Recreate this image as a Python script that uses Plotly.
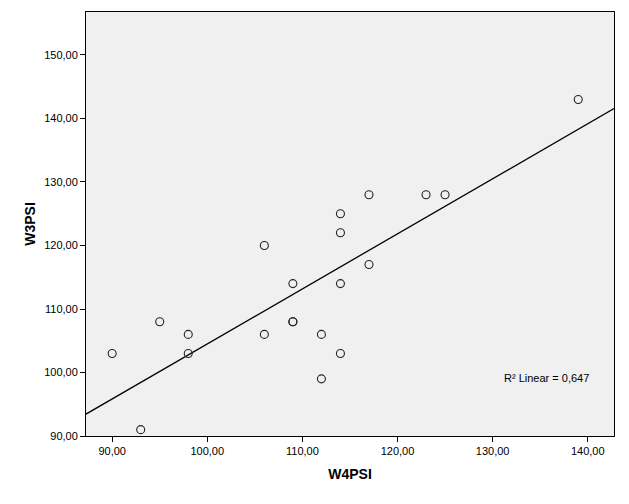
import numpy as np
import plotly.graph_objects as go

w4psi = [90, 93, 95, 98, 98, 106, 106, 109, 109, 109, 112, 112, 114, 114, 114, 114, 117, 117, 123, 125, 139]
w3psi = [103, 91, 108, 106, 103, 120, 106, 114, 108, 108, 106, 99, 125, 122, 114, 103, 128, 117, 128, 128, 143]
x_ticks = [90, 100, 110, 120, 130, 140]
y_ticks = [90, 100, 110, 120, 130, 140, 150]
r2_label = "R² Linear = 0,647"

x_range = [87.25, 142.76]
y_range = [90, 156.77]

slope, intercept = np.polyfit(w4psi, w3psi, 1)
fit_x = np.array(x_range)
fit_y = slope * fit_x + intercept

font = "Liberation Sans, Arial, sans-serif"

fig = go.Figure()
fig.add_trace(go.Scatter(x=fit_x, y=fit_y, mode="lines",
                         line=dict(color="black", width=1.3), hoverinfo="skip",
                         showlegend=False))
fig.add_trace(go.Scatter(x=w4psi, y=w3psi, mode="markers",
                         marker=dict(symbol="circle-open", size=8,
                                     color="#222222", line=dict(width=1.1, color="#222222")),
                         showlegend=False))

fig.add_annotation(x=131.0, y=99.1, text=r2_label, showarrow=False, xanchor="left",
                   yanchor="middle", font=dict(family=font, size=11, color="black"))

fig.update_layout(
    width=629, height=504,
    margin=dict(l=86, r=15, t=12, b=68),
    paper_bgcolor="white", plot_bgcolor="#F0F0F0",
    separators=",.",
    font=dict(family=font, size=11, color="black"),
    xaxis=dict(range=x_range, tickvals=x_ticks, tickformat=".2f", showgrid=False,
               zeroline=False, ticks="outside", ticklen=5, tickcolor="black",
               showline=True, linecolor="black", linewidth=1, mirror=True,
               title=dict(text="<b>W4PSI</b>", font=dict(size=14, family=font), standoff=12)),
    yaxis=dict(range=y_range, tickvals=y_ticks, tickformat=".2f", showgrid=False,
               zeroline=False, ticks="outside", ticklen=5, tickcolor="black",
               showline=True, linecolor="black", linewidth=1, mirror=True,
               title=dict(text="<b>W3PSI</b>", font=dict(size=14, family=font), standoff=5)),
)

fig.write_html("out.html")
